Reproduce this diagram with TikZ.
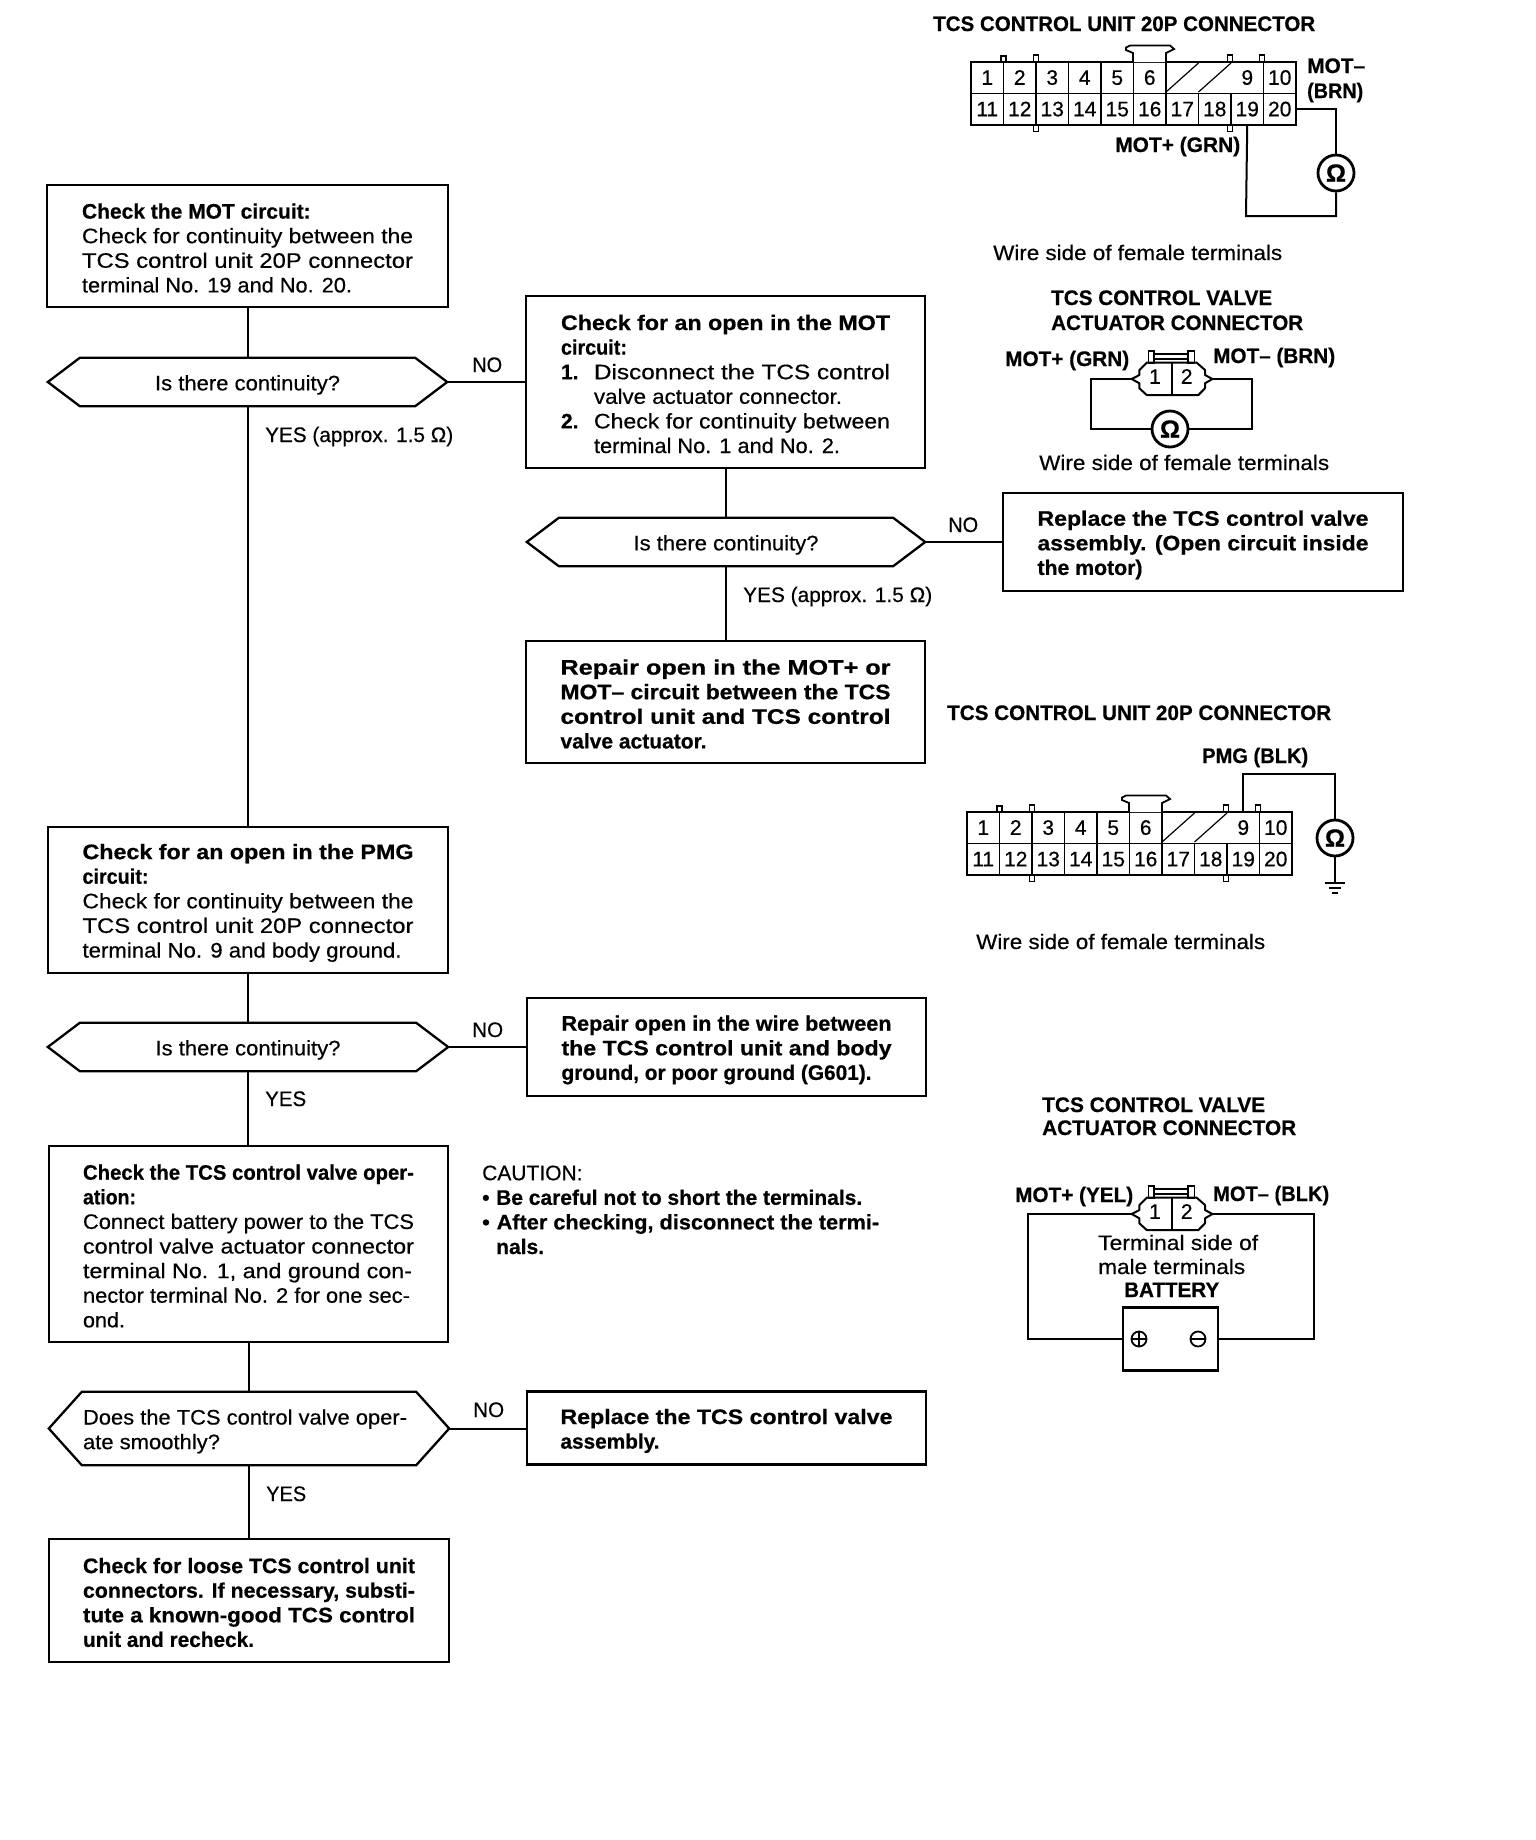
\documentclass[tikz,border=0pt]{standalone}
\usepackage{fontspec}
\usepackage{graphicx}
\setmainfont{Liberation Sans}[FakeBold=0.4,BoldFeatures={FakeBold=0.6}]
\usetikzlibrary{calc}
\hbadness=10000 \hfuzz=50pt
\newcommand\sline{\rule[-2pt]{0pt}{23pt}}
\newcommand\fitw[2]{\resizebox{#1}{\height}{#2}}
\newcommand\LJ[1]{\hbox to\linewidth{\sline\fitw{\linewidth}{#1}}}
\newcommand\LL[1]{\hbox to\linewidth{\sline #1\hss}}
\newcommand\LW[2]{\hbox to\linewidth{\sline\fitw{#1pt}{#2}\hss}}
\newcommand\LI[2]{\hbox to\linewidth{\sline\makebox[33pt][l]{#1}\fitw{\dimexpr\linewidth-33pt\relax}{#2}}}
\newcommand\LM[2]{\hbox to\linewidth{\sline\hspace{33pt}\fitw{#1pt}{#2}\hss}}
\newcommand\btext[2]{\parbox{#1pt}{\baselineskip=24.6pt\lineskiplimit=-10pt #2}}
\newcommand\lab[5]{\node[lbl] (#1) at (#2,#3) {\resizebox{#4pt}{\height}{#5}};}
\newcommand\hexa[7]{%
  \node[minimum width=#4pt,minimum height=#5pt,inner sep=0pt] (#1) at (#2,#3) {#7};
  \draw[boxline] (#1.west) -- ($(#1.north west)+(#6,0)$) -- ($(#1.north east)+(-#6,0)$) -- (#1.east) -- ($(#1.south east)+(-#6,0)$) -- ($(#1.south west)+(#6,0)$) -- cycle;}
\newcommand\tcsgrid[3]{%
\begin{scope}[shift={(#2,#3)}]
  \foreach \i in {1,...,10}{%
    \pgfmathsetmacro\xc{971+32.5*(\i-0.5)}
    \pgfmathtruncatemacro\j{\i+10}
    \ifnum\i=7 \node[cellnum] (#1-\i) at (\xc,77.5) {};
    \else\ifnum\i=8 \node[cellnum] (#1-\i) at (\xc,77.5) {};
    \else \node[cellnum] (#1-\i) at (\xc,77.5) {\i};\fi\fi
    \node[cellnum] (#1-\j) at (\xc,109) {\j};
  }
  \foreach \i in {1,2,3,4,5,6,9}{\pgfmathsetmacro\xc{971+32.5*\i}
    \draw[thinl] (\xc,62) -- (\xc,93);}
  \foreach \i in {1,...,9}{\pgfmathsetmacro\xc{971+32.5*\i}
    \draw[thinl] (\xc,93) -- (\xc,125);}
  \draw[thinl] (971,93.5) -- (1296,93.5);
  \draw[boxline] (971,62) rectangle (1296,125);
  \draw[thinl,line width=1.2pt] (1166,92) -- (1198.5,63);
  \draw[thinl,line width=1.2pt] (1198.5,92) -- (1231,63);
  \draw[thinl,fill=white] (1133,62) -- (1133,53) -- (1126,50) -- (1126,47.5) -- (1130,45.5) -- (1170,45.5) -- (1174,49) -- (1166,53) -- (1166,62);
  \foreach \tx/\ty in {1003.5/56,1036/55,1230/55,1262/55}{\draw[thinl,fill=white] (\tx-2.5,62) rectangle (\tx+2.5,\ty);}
  \foreach \tx in {1036,1230}{\draw[thinl,fill=white] (\tx-2.5,125) rectangle (\tx+2.5,131.5);}
\end{scope}}
\newcommand\twopin[3]{%
\begin{scope}[shift={(#2,#3)}]
  \coordinate (#1-L) at (-40,0);
  \coordinate (#1-R) at (40.7,0);
  \draw[boxline,line width=2pt,line join=round] (-40,0) -- (-32.3,-4) -- (-32.3,-9) -- (-25,-16.3) -- (25,-16.3) -- (33.3,-9) -- (33.3,-4) -- (40.7,0) -- (33.3,4.3) -- (33.3,9.3) -- (26.7,16) -- (-25,16) -- (-32.3,9.3) -- (-32.3,4.3) -- cycle;
  \draw[thinl] (0,-16.3) -- (0,16);
  \draw[thinl] (-23.3,-16.3) rectangle (-17.7,-28.3);
  \draw[thinl] (16,-16.3) rectangle (22.7,-28.3);
  \draw[thinl] (-17.7,-25) -- (16,-25);
  \draw[thinl] (-17.7,-19.7) -- (16,-19.7);
  \node[cellnum,minimum width=0pt] (#1-a) at (-16.7,-2.5) {1};
  \node[cellnum,minimum width=0pt] (#1-b) at (15,-2.5) {2};
\end{scope}}
\begin{document}
\begin{tikzpicture}[x=1pt,y=-1pt,
  every node/.style={font=\fontsize{21}{24.6}\selectfont,text=black},
  boxline/.style={draw=black,line width=2.3pt,line join=miter},
  thinl/.style={draw=black,line width=1.8pt},
  wire/.style={draw=black,line width=2pt},
  boxn/.style={draw=black,line width=2.3pt,inner sep=0pt},
  lbl/.style={anchor=base west,inner sep=0pt},
  cellnum/.style={minimum width=30pt,minimum height=30pt,inner sep=0pt,text height=14.6pt,text depth=0pt},
  ohmn/.style={circle,draw=black,line width=2.8pt,minimum size=36pt,inner sep=0pt,font=\fontsize{25}{26}\selectfont\bfseries}]
\useasboundingbox[fill=white] (0,0) rectangle (1536,1840);

% ---- left column
\node[boxn,minimum width=401pt,minimum height=122pt] (A) at (247.5,246) {\btext{331}{%
  \LL{\bfseries Check the MOT circuit:}
  \LJ{Check for continuity between the}
  \LJ{TCS control unit 20P connector}
  \LW{270}{terminal No. 19 and No. 20.}}};
\hexa{d1}{247.5}{382}{399}{48}{32}{\btext{185}{\LJ{Is there continuity?}}}
\node[boxn,minimum width=400pt,minimum height=146pt] (P) at (248,900) {\btext{331}{%
  \LJ{\bfseries Check for an open in the PMG}
  \LW{66}{\bfseries circuit:}
  \LJ{Check for continuity between the}
  \LJ{TCS control unit 20P connector}
  \LW{319}{terminal No. 9 and body ground.}}};
\hexa{d2}{248}{1047}{400}{48}{32}{\btext{185}{\LJ{Is there continuity?}}}
\node[boxn,minimum width=399pt,minimum height=196pt] (V) at (248.5,1244) {\btext{331}{%
  \LJ{\bfseries Check the TCS control valve oper-}
  \LW{53}{\bfseries ation:}
  \LJ{Connect battery power to the TCS}
  \LJ{control valve actuator connector}
  \LW{329}{terminal No. 1, and ground con-}
  \LW{327}{nector terminal No. 2 for one sec-}
  \LW{42}{ond.}}};
\hexa{d3}{249}{1428.5}{400}{73}{33}{\btext{332}{%
  \LW{324}{Does the TCS control valve oper-}
  \LW{137}{ate smoothly?}}}
\node[boxn,minimum width=400pt,minimum height=123pt] (L) at (249,1600.5) {\btext{332}{\bfseries
  \LJ{Check for loose TCS control unit}
  \LJ{connectors. If necessary, substi-}
  \LJ{tute a known-good TCS control}
  \LW{171}{unit and recheck.}}};

% ---- middle column
\node[boxn,minimum width=399pt,minimum height=172pt] (B) at (725.5,382) {\btext{329}{%
  \LJ{\bfseries Check for an open in the MOT}
  \LW{66}{\bfseries circuit:}
  \LI{\bfseries 1.}{Disconnect the TCS control}
  \LM{248}{valve actuator connector.}
  \LI{\bfseries 2.}{Check for continuity between}
  \LM{246}{terminal No. 1 and No. 2.}}};
\hexa{dB}{726}{542}{398}{48}{32}{\btext{185}{\LJ{Is there continuity?}}}
\node[boxn,minimum width=399pt,minimum height=122pt] (R) at (725.5,702) {\btext{330}{\bfseries
  \LJ{Repair open in the MOT+ or}
  \LJ{MOT– circuit between the TCS}
  \LJ{control unit and TCS control}
  \LW{146}{valve actuator.}}};
\node[boxn,minimum width=399pt,minimum height=98pt] (G) at (726.5,1047) {\btext{330}{\bfseries
  \LJ{Repair open in the wire between}
  \LJ{the TCS control unit and body}
  \LW{310}{ground, or poor ground (G601).}}};
\node[boxn,minimum width=399pt,minimum height=73pt] (S) at (726.5,1428) {\btext{332}{\bfseries
  \LJ{Replace the TCS control valve}
  \LW{99}{assembly.}}};
\node[boxn,minimum width=400pt,minimum height=98pt] (O) at (1203,542) {\btext{331}{\bfseries
  \LJ{Replace the TCS control valve}
  \LJ{assembly. (Open circuit inside}
  \LW{105}{the motor)}}};

% ---- connectors
\draw[wire] (A.south) -- (A.south |- d1.north);
\draw[wire] (d1.south) -- (d1.south |- P.north);
\draw[wire] (P.south) -- (P.south |- d2.north);
\draw[wire] (d2.south) -- (d2.south |- V.north);
\draw[wire] (V.south) -- (V.south |- d3.north);
\draw[wire] (d3.south) -- (d3.south |- L.north);
\draw[wire] (d1.east) -- (B.west);
\draw[wire] (B.south) -- (B.south |- dB.north);
\draw[wire] (dB.south) -- (dB.south |- R.north);
\draw[wire] (dB.east) -- (O.west);
\draw[wire] (d2.east) -- (G.west);
\draw[wire] (d3.east) -- (d3.east -| S.west);

% ---- flow labels
\lab{no1}{472}{372}{30}{NO}
\lab{no2}{948}{532}{30}{NO}
\lab{no3}{472}{1037}{31}{NO}
\lab{no4}{473}{1417}{31}{NO}
\lab{y1}{265}{442}{188}{YES (approx. 1.5 Ω)}
\lab{y2}{743}{602}{189}{YES (approx. 1.5 Ω)}
\lab{y3}{265}{1106}{41}{YES}
\lab{y4}{266}{1501}{40}{YES}

% ---- caution
\node[anchor=north west,inner sep=0pt] (C) at (482,1159) {\btext{397}{%
  \LL{CAUTION:}
  \LW{380}{\bfseries\makebox[14pt][l]{•}Be careful not to short the terminals.}
  \LJ{\bfseries\makebox[14pt][l]{•}After checking, disconnect the termi-}
  \LL{\bfseries\hspace{14pt}nals.}}};

% ---- connector 1
\lab{t1}{933}{31}{382}{\bfseries TCS CONTROL UNIT 20P CONNECTOR}
\tcsgrid{a}{0}{0}
\node[ohmn] (o1) at (1336,173) {Ω};
\coordinate (wa) at (1246,216);
\draw[wire] (a-20.east) -| (o1.north);
\draw[wire] (o1.south) |- (wa) -- (a-19.south);
\lab{m1}{1307}{73}{58}{\bfseries MOT–}
\lab{m2}{1307}{98}{56}{\bfseries (BRN)}
\lab{m3}{1115}{152}{125}{\bfseries MOT+ (GRN)}
\lab{w1}{993}{260}{289}{Wire side of female terminals}

% ---- connector 2
\lab{t2a}{1051}{305}{221}{\bfseries TCS CONTROL VALVE}
\lab{t2b}{1051}{330}{252}{\bfseries ACTUATOR CONNECTOR}
\lab{m4}{1005}{366}{124}{\bfseries MOT+ (GRN)}
\lab{m5}{1213}{363}{122}{\bfseries MOT– (BRN)}
\twopin{v1}{1171.7}{379}
\node[ohmn] (o2) at (1170,429) {Ω};
\coordinate (wb) at (1090.7,429);
\coordinate (wc) at (1251.7,429);
\draw[wire] (v1-L) -| (wb) -- (o2.west);
\draw[wire] (o2.east) -- (wc) |- (v1-R);
\lab{w2}{1039}{470}{290}{Wire side of female terminals}

% ---- connector 3
\lab{t3}{947}{720}{384}{\bfseries TCS CONTROL UNIT 20P CONNECTOR}
\lab{m6}{1202}{763}{106}{\bfseries PMG (BLK)}
\tcsgrid{b}{-4}{750}
\node[ohmn] (o3) at (1335,838) {Ω};
\coordinate (wd) at (1335,774);
\coordinate (g3) at (1335,883);
\draw[wire] (b-9.north |- 0,812) |- (wd) -- (o3.north);
\draw[wire] (o3.south) -- (g3);
\draw[wire] ($(g3)+(-10,0)$) -- ($(g3)+(10,0)$);
\draw[wire,line width=1.5pt] ($(g3)+(-6,5)$) -- ($(g3)+(6,5)$);
\draw[wire,line width=1.5pt] ($(g3)+(-3,10)$) -- ($(g3)+(3,10)$);
\lab{w3}{976}{949}{289}{Wire side of female terminals}

% ---- connector 4
\lab{t4a}{1042}{1112}{223}{\bfseries TCS CONTROL VALVE}
\lab{t4b}{1042}{1135}{254}{\bfseries ACTUATOR CONNECTOR}
\lab{m7}{1015}{1202}{118}{\bfseries MOT+ (YEL)}
\lab{m8}{1213}{1201}{116}{\bfseries MOT– (BLK)}
\twopin{v2}{1171.7}{1214}
\node[boxn,minimum width=95pt,minimum height=63pt] (bat) at (1170.5,1339) {};
\node[circle,draw=black,line width=1.8pt,minimum size=15pt,inner sep=0pt] (bp) at (1139,1339) {};
\node[circle,draw=black,line width=1.8pt,minimum size=15pt,inner sep=0pt] (bm) at (1198,1339) {};
\draw[thinl] (bp.west) -- (bp.east);
\draw[thinl] (bp.north) -- (bp.south);
\draw[thinl] (bm.west) -- (bm.east);
\coordinate (we) at (1028,1339);
\coordinate (wf) at (1314,1339);
\draw[wire] (v2-L) -| (we) -- (bat.west);
\draw[wire] (bat.east) -- (wf) |- (v2-R);
\lab{n1}{1098}{1250}{160}{Terminal side of}
\lab{n2}{1098}{1274}{147}{male terminals}
\lab{n3}{1124}{1297}{95}{\bfseries BATTERY}
\end{tikzpicture}
\end{document}
